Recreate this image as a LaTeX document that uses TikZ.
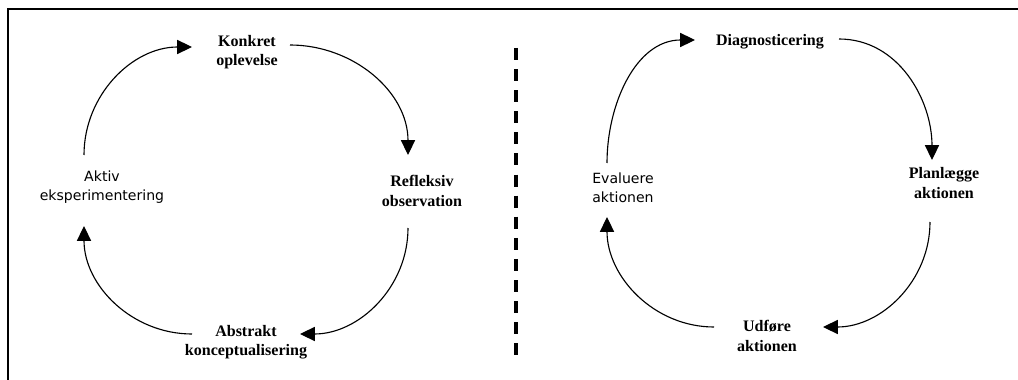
\documentclass[tikz,border=0pt]{standalone}
\usepackage{fontspec}
\setmainfont{Liberation Serif}
\newfontfamily\tahomafont{DejaVu Sans}
\usepackage{tikz}
\usetikzlibrary{arrows.meta}

\begin{document}
\begin{tikzpicture}[x=0.025cm,y=0.025cm,
    stage/.style={align=center,inner sep=0pt,
      font=\fontsize{11.4}{13.9}\selectfont\bfseries},
    stagesans/.style={align=center,inner sep=0pt,
      font=\tahomafont\fontsize{10}{13.5}\selectfont},
    cyc/.style={line width=0.8pt,-{Triangle[length=10.5pt,width=10pt]}}]
  % two learning cycles side by side, pixel units
  \useasboundingbox (0,0) rectangle (1018,-380);
  \draw[line width=1pt] (8,-380) -- (8,-9) -- (1018,-9);
  \draw[line width=2.4pt,dash pattern=on 8.5pt off 6.5pt] (516,-48) -- (516,-355);

  % left cycle
  \node[stage] (kon) at (247,-52) {Konkret\\oplevelse};
  \node[stage] (ref) at (422,-191) {Refleksiv\\observation};
  \node[stage] (abs) at (246,-342) {Abstrakt\\konceptualisering};
  \node[stagesans] (akt) at (102,-187) {Aktiv\\eksperimentering};

  % right cycle
  \node[stage] (dia) at (770,-42) {Diagnosticering};
  \node[stage] (pla) at (944,-183) {Planlægge\\aktionen};
  \node[stage] (udf) at (767,-336) {Udføre\\aktionen};
  \node[stagesans] (eva) at (623,-188) {Evaluere\\aktionen};

  % arc ends
  \coordinate (akt-t) at (84,-155);
  \coordinate (kon-w) at (192,-47);
  \coordinate (kon-e) at (290,-45);
  \coordinate (ref-t) at (408,-155);
  \coordinate (ref-b) at (408,-228);
  \coordinate (abs-e) at (300,-334);
  \coordinate (abs-w) at (192,-334);
  \coordinate (akt-b) at (84,-226);
  \coordinate (eva-t) at (607,-163);
  \coordinate (dia-w) at (695,-40);
  \coordinate (dia-e) at (839,-39);
  \coordinate (pla-t) at (932,-160);
  \coordinate (pla-b) at (930,-222);
  \coordinate (udf-e) at (823,-327);
  \coordinate (udf-w) at (714,-327);
  \coordinate (eva-b) at (607,-217);

  \foreach \a/\b/\o/\i in {akt-t/kon-w/90/180, kon-e/ref-t/0/90,
      ref-b/abs-e/270/0, abs-w/akt-b/180/270,
      eva-t/dia-w/90/180, dia-e/pla-t/0/90,
      pla-b/udf-e/270/0, udf-w/eva-b/180/270}{
    \draw[cyc] (\a) to[out=\o,in=\i] (\b);
  }
\end{tikzpicture}
\end{document}
